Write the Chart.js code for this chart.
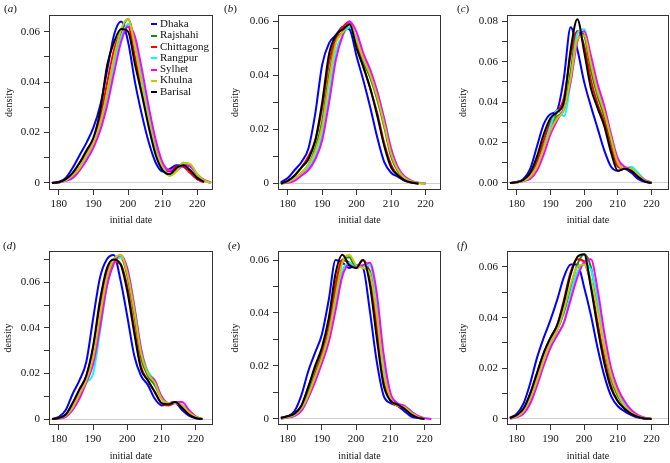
<!DOCTYPE html>
<html>
<head>
<meta charset="utf-8">
<script src="https://cdn.jsdelivr.net/npm/chart.js@4.4.1/dist/chart.umd.min.js"></script>
<style>
  body { margin: 0; background: #fff; }
  #fig { position: relative; width: 670px; height: 463px; overflow: hidden;
         font-family: "Liberation Serif", "DejaVu Serif", serif; color: #111; }
  #fig canvas { position: absolute; }
  .tag { position: absolute; font-size: 11px; line-height: 12px; }
  #key { position: absolute; left: 151px; top: 18px; font-size: 11px; line-height: 11.3px; }
  #key span { display: inline-block; width: 6px; height: 2px; margin-right: 3px; vertical-align: middle; }
</style>
</head>
<body>
<div id="fig"></div>
<script>
// regions in legend order
const regions = ['Dhaka', 'Rajshahi', 'Chittagong', 'Rangpur', 'Sylhet', 'Khulna', 'Barisal'];
const colours = ['#0000ff', '#138a13', '#ff0000', '#00ffff', '#ff00ff', '#c8c800', '#000000'];

// initial date grid the curves were read at
const dates = [178, 180, 182, 184, 186, 188, 190, 192, 194, 196, 198, 200,
               202, 204, 206, 208, 210, 212, 214, 216, 218, 220, 222, 224];

// density values, one row per region (same order as regions)
const densityA = [
  [0, .0005, .002, .006, .011, .016, .022, .031, .045, .059, .064, .056, .040, .027, .016, .008, .0045, .0055, .007, .0065, .004, .0015, .0003, null],
  [null, .0002, .001, .003, .006, .011, .016, .023, .035, .049, .060, .065, .055, .040, .026, .014, .006, .003, .005, .008, .007, .003, .001, 0],
  [0, .0003, .0012, .004, .008, .012, .017, .026, .040, .053, .060, .062, .050, .037, .024, .013, .006, .0045, .0065, .0065, .004, .0015, .0003, null],
  [null, .0002, .001, .002, .005, .010, .015, .022, .033, .047, .058, .063, .056, .042, .028, .016, .007, .003, .005, .0075, .0065, .003, .001, 0],
  [null, .0002, .0008, .002, .005, .009, .014, .021, .031, .044, .056, .062, .058, .045, .030, .017, .008, .005, .005, .007, .0065, .0035, .0012, .0002],
  [null, .0002, .001, .003, .006, .011, .016, .024, .036, .050, .061, .065, .054, .039, .025, .013, .006, .0028, .0045, .008, .0075, .0035, .001, 0],
  [0, .0003, .0015, .004, .008, .013, .018, .029, .047, .056, .061, .060, .047, .035, .022, .011, .005, .0035, .006, .007, .005, .002, .0005, null]
];
const densityB = [
  [.0005, .002, .005, .008, .013, .026, .044, .052, .055, .058, .057, .047, .038, .028, .017, .008, .004, .0025, .001, .0003, 0, null, null, null],
  [0, .0007, .002, .004, .007, .013, .023, .040, .053, .056, .059, .052, .045, .039, .031, .021, .010, .0045, .0018, .0007, .0002, 0, null, null],
  [0, .001, .003, .006, .010, .016, .028, .045, .054, .058, .060, .051, .043, .035, .026, .015, .007, .003, .0012, .0004, 0, null, null, null],
  [0, .0005, .0015, .003, .006, .010, .018, .033, .049, .055, .058, .054, .047, .041, .034, .024, .013, .006, .0025, .001, .0003, 0, null, null],
  [0, .0003, .001, .003, .005, .009, .016, .030, .046, .055, .060, .056, .048, .042, .034, .024, .013, .006, .0025, .001, .0003, 0, null, null],
  [0, .0005, .002, .004, .007, .012, .021, .038, .052, .056, .059, .053, .046, .040, .032, .022, .011, .005, .002, .0008, .0002, 0, null, null],
  [0, .001, .003, .006, .009, .016, .030, .048, .055, .057, .059, .050, .043, .035, .025, .014, .006, .003, .0012, .0004, 0, null, null, null]
];
const densityC = [
  [0, .0005, .002, .007, .018, .029, .034, .036, .052, .077, .066, .050, .038, .027, .016, .008, .006, .007, .005, .002, .0005, 0, null, null],
  [null, .0002, .001, .003, .009, .018, .027, .033, .036, .055, .075, .073, .056, .043, .033, .020, .010, .007, .007, .004, .0012, .0002, null, null],
  [0, .0003, .0015, .004, .011, .021, .030, .035, .042, .063, .075, .068, .051, .039, .030, .017, .008, .007, .006, .003, .001, 0, null, null],
  [null, .0002, .001, .003, .008, .017, .028, .036, .033, .050, .074, .076, .061, .047, .036, .023, .011, .007, .008, .005, .0015, .0003, null, null],
  [null, .0002, .001, .002, .006, .014, .024, .031, .037, .050, .070, .075, .063, .049, .038, .024, .012, .008, .007, .004, .0015, .0003, null, null],
  [null, .0002, .001, .003, .008, .017, .026, .032, .036, .052, .071, .073, .059, .045, .035, .022, .010, .007, .007, .004, .0012, .0002, null, null],
  [0, .0003, .0015, .005, .013, .024, .032, .035, .040, .066, .081, .065, .047, .037, .028, .015, .006, .007, .006, .003, .0008, 0, null, null]
];
const densityD = [
  [0, .001, .004, .011, .017, .025, .044, .062, .070, .072, .061, .045, .028, .019, .015, .009, .006, .0065, .007, .004, .0015, .0003, 0, null],
  [null, .0003, .0015, .005, .011, .017, .026, .044, .061, .069, .071, .063, .046, .027, .019, .015, .009, .007, .0075, .006, .003, .001, 0, null],
  [0, .0005, .002, .007, .013, .019, .031, .050, .064, .069, .068, .058, .040, .023, .017, .012, .007, .006, .007, .005, .002, .0005, null, null],
  [null, .0003, .0012, .004, .010, .016, .020, .038, .058, .068, .071, .066, .050, .031, .021, .017, .010, .007, .007, .006, .003, .001, 0, null],
  [null, .0002, .001, .004, .009, .016, .024, .040, .058, .068, .072, .066, .050, .031, .020, .017, .010, .007, .0075, .0075, .004, .0012, 0, null],
  [null, .0003, .0015, .005, .011, .017, .027, .045, .062, .070, .072, .064, .048, .029, .020, .016, .009, .007, .007, .006, .003, .001, .0002, null],
  [0, .0005, .002, .007, .013, .019, .032, .052, .066, .070, .068, .056, .038, .022, .017, .012, .007, .0065, .0075, .005, .002, .0005, 0, null]
];
const densityE = [
  [.0005, .001, .003, .009, .018, .025, .032, .045, .060, .059, .057, .058, .057, .041, .022, .009, .006, .005, .003, .001, .0003, 0, null, null],
  [.0002, .0007, .0015, .004, .010, .017, .024, .033, .048, .060, .061, .057, .058, .056, .040, .018, .008, .005, .0045, .0025, .0008, 0, null, null],
  [.0003, .001, .002, .005, .012, .019, .026, .036, .051, .060, .059, .057, .060, .054, .035, .015, .007, .005, .004, .002, .0005, 0, null, null],
  [.0001, .0005, .0012, .003, .008, .015, .022, .031, .044, .056, .059, .057, .058, .058, .045, .022, .009, .006, .005, .003, .001, .0002, 0, null],
  [.0001, .0005, .0012, .003, .008, .014, .021, .029, .041, .054, .058, .057, .058, .059, .048, .025, .010, .006, .005, .003, .0012, .0003, 0, null],
  [.0002, .0007, .0015, .004, .009, .016, .023, .032, .046, .059, .062, .058, .057, .055, .040, .018, .008, .005, .0045, .0025, .0008, 0, null, null],
  [.0003, .001, .002, .005, .012, .020, .027, .038, .055, .062, .058, .057, .060, .051, .031, .013, .007, .0055, .004, .0018, .0005, 0, null, null]
];
const densityF = [
  [.0005, .002, .006, .014, .024, .032, .039, .047, .056, .061, .061, .052, .041, .028, .017, .009, .005, .003, .0015, .0005, 0, null, null, null],
  [.0002, .001, .003, .008, .015, .023, .030, .035, .042, .052, .061, .065, .060, .045, .029, .016, .009, .005, .0025, .001, .0003, 0, null, null],
  [.0003, .0015, .004, .010, .018, .026, .032, .037, .047, .058, .063, .062, .053, .038, .024, .013, .007, .004, .002, .0008, .0002, 0, null, null],
  [.0001, .0008, .0025, .007, .014, .022, .029, .033, .038, .049, .058, .061, .059, .047, .031, .018, .011, .006, .003, .0012, .0004, 0, null, null],
  [.0001, .0007, .002, .006, .013, .021, .028, .033, .038, .047, .056, .062, .063, .051, .034, .020, .012, .007, .0035, .0015, .0005, .0001, null, null],
  [.0002, .001, .003, .008, .015, .023, .030, .035, .043, .053, .060, .061, .055, .043, .029, .017, .010, .005, .0025, .001, .0003, 0, null, null],
  [.0003, .0015, .004, .010, .018, .026, .032, .037, .046, .057, .064, .065, .052, .036, .022, .012, .007, .004, .002, .0008, .0002, 0, null, null]
];

const serif = '"Liberation Serif", "DejaVu Serif", serif';
const ink = '#111';

// panel placement and axis limits
const panels = [
  { tag: 'a', rows: densityA, left: 0,   top: 0,   w: 220, yw: 49, pt: 15, pr: 7, xh: 40, xtp: 4, ytp: 3, xmin: 177.15, xmax: 224.55, ymin: -0.0028, ymax: 0.0666, zero: '0',    tx: 4,   ty: 2 },
  { tag: 'b', rows: densityB, left: 228, top: 0,   w: 220, yw: 50, pt: 15, pr: 7, xh: 40, xtp: 4, ytp: 1, xmin: 177.17, xmax: 224.5,  ymin: -0.0024, ymax: 0.0624, zero: '0',    tx: 224, ty: 2 },
  { tag: 'c', rows: densityC, left: 456, top: 0,   w: 214, yw: 51, pt: 15, pr: 1, xh: 40, xtp: 4, ytp: 1, xmin: 177.13, xmax: 225.17, ymin: -0.0035, ymax: 0.0831, zero: '0.00', tx: 457, ty: 2 },
  { tag: 'd', rows: densityD, left: 0,   top: 233, w: 220, yw: 49, pt: 18, pr: 7, xh: 38, xtp: 1, ytp: 2, xmin: 177.1,  xmax: 225.06, ymin: -0.0026, ymax: 0.0737, zero: '0',    tx: 3,   ty: 239 },
  { tag: 'e', rows: densityE, left: 228, top: 233, w: 220, yw: 50, pt: 18, pr: 7, xh: 38, xtp: 1, ytp: 1, xmin: 177.15, xmax: 224.84, ymin: -0.0023, ymax: 0.0634, zero: '0',    tx: 228, ty: 239 },
  { tag: 'f', rows: densityF, left: 456, top: 233, w: 214, yw: 51, pt: 18, pr: 1, xh: 38, xtp: 1, ytp: 1, xmin: 177.13, xmax: 225.17, ymin: -0.0024, ymax: 0.0663, zero: '0',    tx: 457, ty: 239 }
];

const frame = {
  id: 'frame',
  afterDraw(chart) {
    const a = chart.chartArea, ctx = chart.ctx;
    const l = Math.round(a.left) + 0.5, t = Math.round(a.top) + 0.5;
    const r = Math.round(a.right) - 0.5, b = Math.round(a.bottom) - 0.5;
    ctx.save();
    ctx.strokeStyle = '#333';
    ctx.lineWidth = 1;
    ctx.strokeRect(l, t, r - l, b - t);
    ctx.restore();
  }
};

const fig = document.getElementById('fig');

panels.forEach(p => {
  const canvas = document.createElement('canvas');
  canvas.width = p.w;
  canvas.height = 230;
  canvas.style.left = p.left + 'px';
  canvas.style.top = p.top + 'px';
  fig.appendChild(canvas);

  const tag = document.createElement('div');
  tag.className = 'tag';
  tag.style.left = p.tx + 'px';
  tag.style.top = p.ty + 'px';
  tag.innerHTML = '(<i>' + p.tag + '</i>)';
  fig.appendChild(tag);

  const datasets = regions.map((name, i) => ({
    label: name,
    data: dates.map((x, j) => ({ x: x, y: p.rows[i][j] })).filter(pt => pt.y !== null),
    borderColor: colours[i],
    borderWidth: 2,
    pointRadius: 0,
    fill: false,
    cubicInterpolationMode: 'monotone',
    order: regions.length - 1 - i
  }));

  new Chart(canvas, {
    type: 'line',
    data: { datasets: datasets },
    options: {
      responsive: false,
      animation: false,
      devicePixelRatio: 1,
      layout: { padding: { top: p.pt, right: p.pr, left: 0, bottom: 0 } },
      plugins: { legend: { display: false }, tooltip: { enabled: false } },
      scales: {
        x: {
          type: 'linear',
          min: p.xmin,
          max: p.xmax,
          afterFit: s => { s.height = p.xh; },
          ticks: { stepSize: 10, includeBounds: false, autoSkip: false, maxRotation: 0,
                   padding: 3, color: ink, font: { family: serif, size: 11 } },
          grid: { drawOnChartArea: false, tickLength: 5, color: '#333', tickColor: '#333' },
          border: { display: false },
          title: { display: true, text: 'initial date', color: ink,
                   font: { family: serif, size: 10 }, padding: { top: 0, bottom: p.xtp } }
        },
        y: {
          type: 'linear',
          min: p.ymin,
          max: p.ymax,
          afterFit: s => { s.width = p.yw; },
          ticks: {
            stepSize: 0.01, includeBounds: false, autoSkip: false, padding: 4,
            color: ink, font: { family: serif, size: 11 },
            callback: v => {
              const k = Math.round(v * 100);
              if (k % 2) return '';
              return k === 0 ? p.zero : v.toFixed(2);
            }
          },
          grid: {
            color: c => (c.tick && Math.abs(c.tick.value) < 1e-9) ? '#cfcfcf' : 'rgba(0,0,0,0)',
            tickColor: '#333', tickLength: 5
          },
          border: { display: false },
          title: { display: true, text: 'density', color: ink,
                   font: { family: serif, size: 10 }, padding: { top: p.ytp, bottom: 0 } }
        }
      }
    },
    plugins: [frame]
  });
});

// legend inside panel (a)
const key = document.createElement('div');
key.id = 'key';
key.innerHTML = regions.map((name, i) =>
  '<div><span style="background:' + colours[i] + '"></span>' + name + '</div>').join('');
fig.appendChild(key);
</script>
</body>
</html>
